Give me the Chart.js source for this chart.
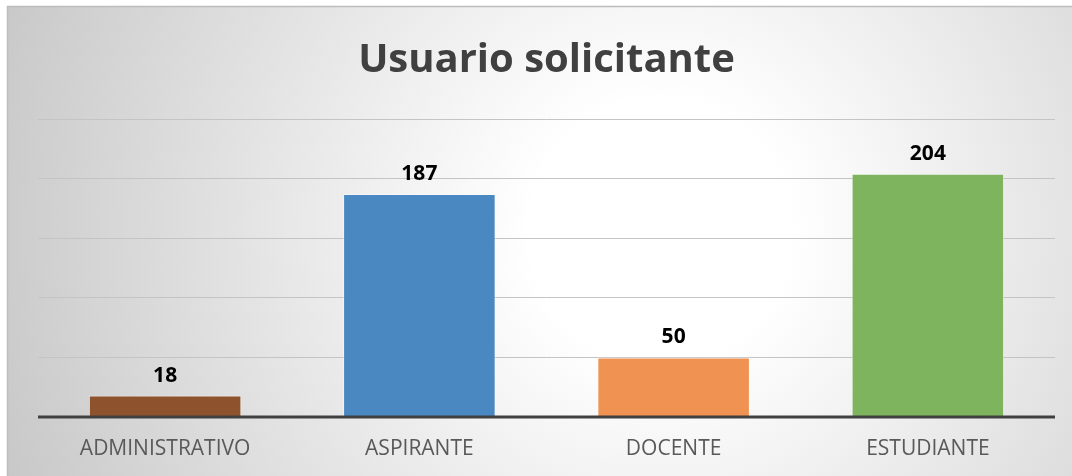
<!DOCTYPE html>
<html>
<head>
<meta charset="utf-8">
<script src="https://cdn.jsdelivr.net/npm/chart.js@4.4.1/dist/chart.umd.min.js"></script>
<style>
  html, body { margin: 0; padding: 0; background: #fff; }
  #wrap { width: 1072px; height: 476px; }
</style>
</head>
<body>
<div id="wrap"><canvas id="grafico"></canvas></div>
<script>
const categorias = ["ADMINISTRATIVO", "ASPIRANTE", "DOCENTE", "ESTUDIANTE"]
const solicitudes = [18, 187, 50, 204]
const coloresBarras = ["#8e532d", "#4a88c1", "#ef9252", "#7eb45e"]
const titulo = "Usuario solicitante"

// fondo con degradado radial y marco gris
const fondo = {
  id: "fondo",
  beforeDraw(chart) {
    const { ctx, width, height } = chart
    ctx.save()
    ctx.fillStyle = "#ffffff"
    ctx.fillRect(0, 0, width, height)
    const g = ctx.createRadialGradient(660, 230, 0, 660, 230, 720)
    g.addColorStop(0, "#ffffff")
    g.addColorStop(0.18, "#ffffff")
    g.addColorStop(1, "#c6c6c6")
    ctx.fillStyle = g
    ctx.fillRect(7, 6, width - 7, height - 6)
    ctx.strokeStyle = "#bdbdbd"
    ctx.lineWidth = 1.5
    ctx.beginPath()
    ctx.moveTo(7.5, height)
    ctx.lineTo(7.5, 6.5)
    ctx.lineTo(width, 6.5)
    ctx.stroke()
    ctx.restore()
  },
}

// linea base y valores encima de cada barra
const etiquetas = {
  id: "etiquetas",
  afterDatasetsDraw(chart) {
    const { ctx, chartArea, scales } = chart
    ctx.save()
    const y0 = scales.y.getPixelForValue(0)
    ctx.strokeStyle = "#404040"
    ctx.lineWidth = 3
    ctx.beginPath()
    ctx.moveTo(chartArea.left, y0)
    ctx.lineTo(chartArea.right, y0)
    ctx.stroke()

    ctx.font = "bold 21px 'Open Sans'"
    ctx.fillStyle = "#000000"
    ctx.textAlign = "center"
    ctx.textBaseline = "alphabetic"
    chart.getDatasetMeta(0).data.forEach((bar, i) => {
      ctx.fillText(solicitudes[i], bar.x, bar.y - 14)
    })
    ctx.restore()
  },
}

const ctx = document.getElementById("grafico")
const chart = new Chart(ctx, {
  type: "bar",
  plugins: [fondo, etiquetas],
  data: {
    labels: categorias,
    datasets: [
      {
        data: solicitudes,
        backgroundColor: coloresBarras,
        borderColor: "rgba(255,255,255,0.45)",
        borderWidth: 1,
        barPercentage: 0.6,
        categoryPercentage: 1.0,
      },
    ],
  },
  options: {
    responsive: true,
    maintainAspectRatio: false,
    animation: false,
    layout: {
      padding: { left: 38, right: 17, top: 0, bottom: 15 },
    },
    plugins: {
      legend: { display: false },
      tooltip: { enabled: false },
      title: {
        display: true,
        text: titulo,
        color: "#404040",
        font: { family: "'Open Sans'", size: 40, weight: "bold" },
        padding: { top: 37, bottom: 34 },
      },
    },
    scales: {
      x: {
        grid: { display: false, drawTicks: false },
        border: { display: false },
        ticks: {
          color: "#595959",
          font: { family: "'Open Sans'", size: 21 },
          padding: 19,
          maxRotation: 0,
        },
        afterFit(scale) {
          scale.height = 44
        },
      },
      y: {
        min: 0,
        max: 250,
        ticks: { display: false, stepSize: 50 },
        border: { display: false },
        grid: { color: "#c4c4c4", lineWidth: 1, drawTicks: false },
      },
    },
  },
})
</script>
</body>
</html>
